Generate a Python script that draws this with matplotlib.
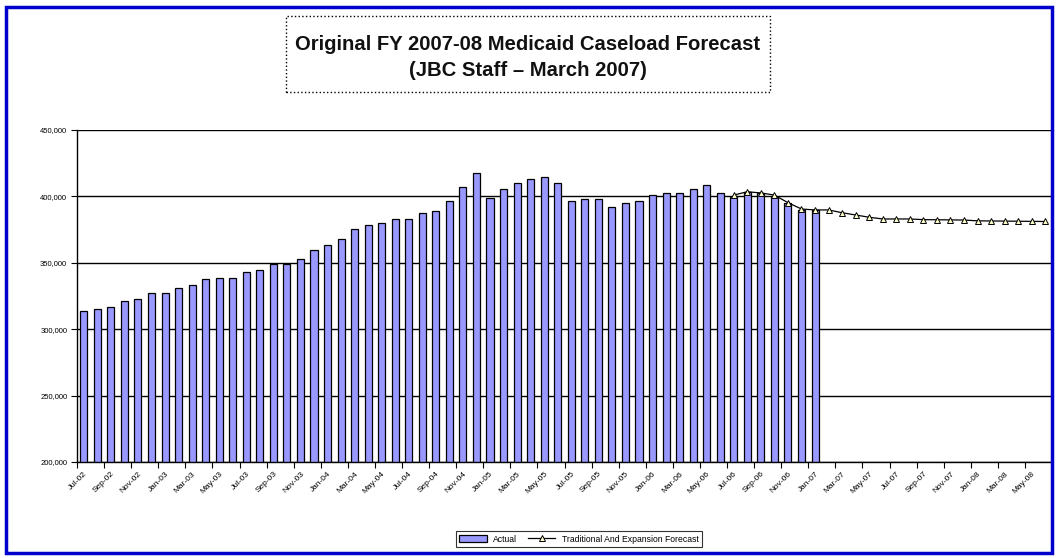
import matplotlib
matplotlib.use('Agg')
import matplotlib.pyplot as plt
from matplotlib.patches import Rectangle
import numpy as np

plt.rcParams['font.family'] = ['Liberation Sans', 'DejaVu Sans']

# months Jul-02 .. Jun-08
month_names = ['Jan', 'Feb', 'Mar', 'Apr', 'May', 'Jun',
               'Jul', 'Aug', 'Sep', 'Oct', 'Nov', 'Dec']
months = []
for k in range(72):
    m = (6 + k) % 12
    y = 2 + (6 + k) // 12
    months.append('%s-%02d' % (month_names[m], y))

# actual caseload, Jul-02 .. Jan-07
actual = [313700, 315000, 316500, 321000, 322500, 327000, 327000, 331300,
          333000, 337600, 338800, 338800, 343400, 344900, 349100, 349100,
          352500, 360000, 363200, 367800, 375300, 378300, 379800, 382800,
          382800, 387300, 388900, 396400, 406900, 417400, 398800, 405300,
          409900, 412900, 414400, 409900, 396400, 397900, 397900, 391900,
          394900, 396400, 400800, 402300, 402300, 405300, 408400, 402300,
          399800, 403600, 402300, 399800, 394900, 389800, 389800]

# forecast, Jul-06 .. Jun-08
forecast_start = 48
forecast = [401000, 403500, 402600, 401000, 395300, 390500, 389800, 389800,
            387700, 386000, 384300, 383000, 383000, 383000, 382500, 382400,
            382300, 382200, 381600, 381500, 381400, 381300, 381200, 381100]

fig = plt.figure(figsize=(10.56, 5.58), dpi=100)
W, H = 1056, 558

# blue outer border
fig.patches.append(Rectangle((6 / W, 1 - 553 / H), 1046 / W, 546 / H,
                             transform=fig.transFigure, fill=False,
                             edgecolor='#0000CC', linewidth=2.5))

# dotted title box
fig.patches.append(Rectangle((286 / W, 1 - 92 / H), 484 / W, 76 / H,
                             transform=fig.transFigure, fill=False,
                             edgecolor='black', linewidth=1, linestyle=':'))
fig.text(528 / W, 1 - 44 / H, 'Original FY 2007-08 Medicaid Caseload Forecast',
         ha='center', va='center', fontsize=14.6, fontweight='bold',
         color='#111111')
fig.text(528 / W, 1 - 71 / H, '(JBC Staff \u2013 March 2007)',
         ha='center', va='center', fontsize=14.6, fontweight='bold',
         color='#111111')

ax = fig.add_axes([77 / W, 1 - 462 / H, 975 / W, 332 / H])

x_act = np.arange(len(actual))
bars = ax.bar(x_act, actual, width=0.52, color='#9999FF', edgecolor='black',
              linewidth=0.9, label='Actual', zorder=2)

x_fc = np.arange(forecast_start, forecast_start + len(forecast))
line, = ax.plot(x_fc, forecast, color='black', linewidth=0.9, marker='^',
                markersize=4.5, markerfacecolor='#FFFFCC',
                markeredgecolor='black', markeredgewidth=0.7,
                label='Traditional And Expansion Forecast', zorder=3)

ax.set_xlim(-0.5, 71.5)
ax.set_ylim(200000, 450000)
ax.set_yticks(np.arange(200000, 450001, 50000))
ax.set_yticklabels(['{:,}'.format(v) for v in range(200000, 450001, 50000)],
                   fontsize=5.5)
ax.yaxis.grid(True, color='black', linewidth=1.0, zorder=0)
ax.set_axisbelow(True)

ax.set_xticks(np.arange(0, 72, 2))
ax.set_xticklabels(months[::2], rotation=45, ha='right',
                   rotation_mode='anchor', fontsize=6)
ax.set_xticks(np.arange(-0.5, 72, 2), minor=True)
ax.tick_params(axis='x', which='major', length=0, pad=6)
ax.tick_params(axis='x', which='minor', length=4, width=0.8)
ax.tick_params(axis='y', length=4, width=0.8, pad=3)

for s in ['top', 'right']:
    ax.spines[s].set_visible(False)
for s in ['left', 'bottom']:
    ax.spines[s].set_linewidth(1.0)

leg = fig.legend([bars, line], ['Actual', 'Traditional And Expansion Forecast'],
                 loc='center', bbox_to_anchor=(579 / W, 1 - 539 / H), ncol=2,
                 fontsize=6.2, frameon=True, fancybox=False,
                 edgecolor='black', handlelength=3.2, columnspacing=1.2,
                 borderpad=0.4)
leg.get_frame().set_linewidth(0.8)

fig.savefig('out.png', dpi=100)
